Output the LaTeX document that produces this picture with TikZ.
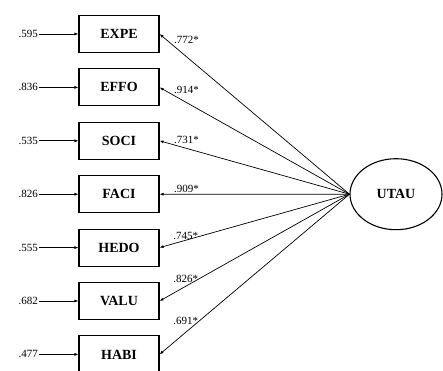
\documentclass[tikz,border=0pt]{standalone}
\usepackage{fontspec}
\setmainfont{Liberation Serif}
\usepackage{tikz}
\usetikzlibrary{arrows.meta}
\usetikzlibrary{shapes}
\tikzstyle{indicator}=[draw, line width=1.1pt, minimum width=80pt, minimum height=37pt, inner sep=0pt, font=\fontsize{14}{16}\selectfont\bfseries]
\tikzstyle{latent}=[draw, ellipse, line width=1.1pt, minimum width=92pt, minimum height=71pt, inner sep=0pt, font=\fontsize{14}{16}\selectfont\bfseries]
\tikzstyle{errlabel}=[anchor=east, inner sep=1pt, font=\fontsize{11}{13}\selectfont]
\tikzstyle{loading}=[inner sep=1pt, font=\fontsize{11}{13}\selectfont]
\tikzstyle{regress}=[line width=0.7pt, -{Latex[length=4pt,width=3pt]}]

\begin{document}
\begin{tikzpicture}[x=1pt,y=-1pt]
	\useasboundingbox (0,0) rectangle (443,370);
	\node[latent] (UTAU) at (396,194.2) {UTAU};
	% one row per indicator: residual, box, loading
	\foreach \i/\name/\err/\load/\anc/\p in {0/EXPE/.595/.772*/south west/.93, 1/EFFO/.836/.914*/south west/.93, 2/SOCI/.535/.731*/south west/.93, 3/FACI/.826/.909*/south west/.93, 4/HEDO/.555/.745*/east/.79, 5/VALU/.682/.826*/east/.79, 6/HABI/.477/.691*/east/.79}{
		\node[indicator] (\name) at (119,{34+53.4*\i}) {\name};
		\node[errlabel] (e\name) at (39,{34+53.4*\i}) {\err};
		\draw[regress] (e\name) -- (\name);
		\draw[regress] (UTAU.west) -- node[loading,pos=\p,anchor=\anc] {\load} (\name.east);
	}
\end{tikzpicture}
\end{document}
